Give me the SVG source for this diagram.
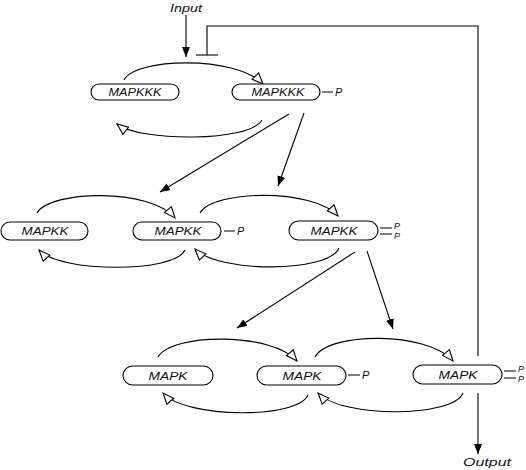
<svg xmlns="http://www.w3.org/2000/svg" width="526" height="470" viewBox="0 0 526 470">
<style>
.n{fill:#fff;stroke:#000;stroke-width:1.1}
.t{font-family:"Liberation Sans",Arial,sans-serif;font-style:italic;font-size:11px;fill:#111}
.s{font-family:"Liberation Sans",Arial,sans-serif;font-style:italic;font-size:9px;fill:#111}
.c{fill:none;stroke:#000;stroke-width:1.1}
.o{marker-end:url(#open)}
.f{marker-end:url(#fill)}
</style>
<defs>
<marker id="open" viewBox="0 0 13 11" refX="12" refY="5.5" markerWidth="13" markerHeight="11" markerUnits="userSpaceOnUse" orient="auto">
<path d="M1,1 L12,5.5 L1,10 Z" fill="#fff" stroke="#000" stroke-width="1.1"/>
</marker>
<marker id="fill" viewBox="0 0 10 8" refX="10" refY="4" markerWidth="10" markerHeight="8" markerUnits="userSpaceOnUse" orient="auto">
<path d="M0,0 L10,4 L0,8 Z" fill="#000"/>
</marker>
</defs>
<g id="connectors">
<path class="c f" d="M186,15 V57"/>
<path class="c" d="M207,55 V26 H478 V356"/>
<path class="c" d="M196,55 H218"/>
<path class="c f" d="M478,393 V454"/>
<path class="c o" d="M124,80 C135,58 235,55 263,84"/>
<path class="c o" d="M262,120 C250,142 140,142 117,124"/>
<path class="c o" d="M37,213 C50,190 150,188 175,218"/>
<path class="c o" d="M185,250 C175,273 60,273 39,250"/>
<path class="c o" d="M200,213 C213,190 313,188 338,216"/>
<path class="c o" d="M339,248 C329,273 218,273 195,249"/>
<path class="c o" d="M158,357 C171,333 272,332 297,361"/>
<path class="c o" d="M308,395 C298,419 186,419 163,393"/>
<path class="c o" d="M315,357 C328,332 428,331 453,361"/>
<path class="c o" d="M463,393 C453,418 341,418 318,393"/>
<path class="c f" d="M289,114 L160,192"/>
<path class="c f" d="M304,113 L278,186"/>
<path class="c f" d="M355,252 L237,328"/>
<path class="c f" d="M367,251 L393,329"/>
<path class="c" d="M322,92 H333 M224,231 H235 M348,375 H360 M380,228 H392 M380,234 H392 M504,371 H516 M504,378 H516"/>
</g>
<text class="t" x="186" y="12" text-anchor="middle" textLength="32" lengthAdjust="spacingAndGlyphs">Input</text>
<text class="t" x="487" y="466" text-anchor="middle" textLength="48" lengthAdjust="spacingAndGlyphs">Output</text>
<g id="mapkkk1"><rect class="n" x="91" y="84" width="88" height="16" rx="8"/><text class="t" x="135" y="96" text-anchor="middle" textLength="53" lengthAdjust="spacingAndGlyphs">MAPKKK</text></g>
<g id="mapkkk2"><rect class="n" x="232" y="84" width="88" height="16" rx="8"/><text class="t" x="278" y="96" text-anchor="middle" textLength="53" lengthAdjust="spacingAndGlyphs">MAPKKK</text><text class="t" x="335" y="96">P</text></g>
<g id="mapkk1"><rect class="n" x="1" y="222" width="87" height="18" rx="9"/><text class="t" x="45" y="235" text-anchor="middle" textLength="47" lengthAdjust="spacingAndGlyphs">MAPKK</text></g>
<g id="mapkk2"><rect class="n" x="133" y="222" width="88" height="18" rx="9"/><text class="t" x="178" y="235" text-anchor="middle" textLength="47" lengthAdjust="spacingAndGlyphs">MAPKK</text><text class="t" x="237" y="235">P</text></g>
<g id="mapkk3"><rect class="n" x="289" y="221" width="89" height="19" rx="9.5"/><text class="t" x="334" y="235" text-anchor="middle" textLength="47" lengthAdjust="spacingAndGlyphs">MAPKK</text><text class="s" x="394" y="229">P</text><text class="s" x="394" y="239">P</text></g>
<g id="mapk1"><rect class="n" x="123" y="366" width="90" height="19" rx="9.5"/><text class="t" x="168" y="380" text-anchor="middle" textLength="39" lengthAdjust="spacingAndGlyphs">MAPK</text></g>
<g id="mapk2"><rect class="n" x="257" y="366" width="89" height="19" rx="9.5"/><text class="t" x="302" y="380" text-anchor="middle" textLength="39" lengthAdjust="spacingAndGlyphs">MAPK</text><text class="t" x="362" y="379">P</text></g>
<g id="mapk3"><rect class="n" x="413" y="365" width="89" height="19" rx="9.5"/><text class="t" x="458" y="379" text-anchor="middle" textLength="39" lengthAdjust="spacingAndGlyphs">MAPK</text><text class="s" x="518" y="372">P</text><text class="s" x="518" y="382">P</text></g>
</svg>
